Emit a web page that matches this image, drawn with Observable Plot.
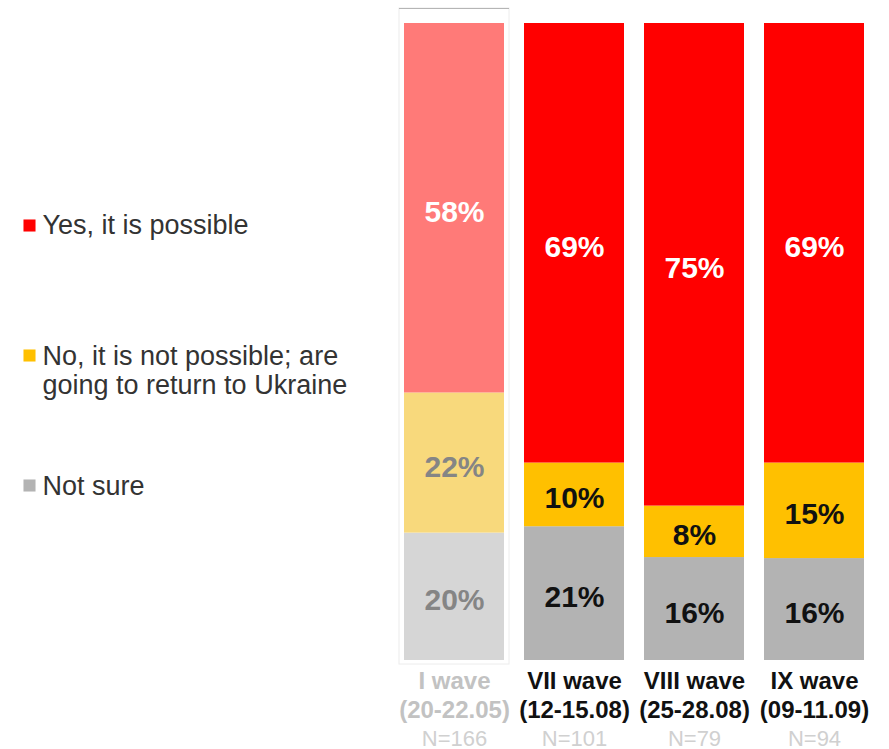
<!DOCTYPE html>
<html>
<head>
<meta charset="utf-8">
<script src="https://cdn.jsdelivr.net/npm/d3@7"></script>
<script src="https://cdn.jsdelivr.net/npm/@observablehq/plot@0.6"></script>
<style>
  html, body { margin: 0; padding: 0; background: #fff; }
  #chart svg { display: block; }
</style>
</head>
<body>
<div id="chart"></div>
<script>
// ---- data ----
const waves = ["I wave", "VII wave", "VIII wave", "IX wave"];
const dates = ["(20-22.05)", "(12-15.08)", "(25-28.08)", "(09-11.09)"];
const sampleSizes = ["N=166", "N=101", "N=79", "N=94"];
const answers = ["Not sure", "No, it is not possible; are\ngoing to return to Ukraine", "Yes, it is possible"];
const notSureValues = [20, 21, 16, 16];
const noValues = [22, 10, 8, 15];
const yesValues = [58, 69, 75, 69];

// ---- styles ----
const fillsFaded = ["#d6d6d6", "#f8d97c", "#ff7a78"];
const fillsFull = ["#b3b3b3", "#ffc000", "#ff0000"];
const labelFaded = ["#858585", "#858585", "#ffffff"];
const labelFull = ["#111111", "#111111", "#ffffff"];
const legendFills = fillsFull;

const seriesValues = [notSureValues, noValues, yesValues];
const rows = [];
waves.forEach((w, i) => {
  answers.forEach((a, j) => {
    rows.push({
      wave: w,
      answer: a,
      value: seriesValues[j][i],
      fill: i === 0 ? fillsFaded[j] : fillsFull[j],
      labelColor: i === 0 ? labelFaded[j] : labelFull[j]
    });
  });
});

const mTop = 23, mLeft = 403;
const legendY = [485, 370, 224];
const squareY = [485, 355, 225];

const legendMarks = answers.flatMap((a, j) => [
  Plot.dot([a], {
    frameAnchor: "top-left",
    dx: 29 - mLeft,
    dy: squareY[j] - mTop,
    symbol: "square",
    r: 6.8,
    fill: legendFills[j]
  }),
  Plot.text([a], {
    frameAnchor: "top-left",
    dx: 42 - mLeft,
    dy: legendY[j] - mTop,
    text: d => d,
    textAnchor: "start",
    lineAnchor: "middle",
    lineHeight: 1.05,
    fontSize: 27,
    fill: "#333333"
  })
]);

const firstColor = "#c2c2c2";

const chart = Plot.plot({
  width: 889,
  height: 749,
  marginTop: mTop,
  marginBottom: 89,
  marginLeft: mLeft,
  marginRight: 25,
  style: { fontFamily: "'Liberation Sans', Arial, sans-serif", background: "#fff" },
  x: { domain: waves, paddingInner: 0.167, paddingOuter: 0, axis: null },
  y: { domain: [0, 1], axis: null },
  marks: [
    // faint frame around the first wave
    Plot.rect([waves[0]], {
      x: d => d, y1: 0, y2: 1,
      insetLeft: -5, insetRight: -5, insetTop: -15, insetBottom: -4,
      fill: "none", stroke: "#ececec"
    }),
    Plot.tickY([waves[0]], {
      x: d => d, y: 1, dy: -15,
      insetLeft: -5, insetRight: -5,
      stroke: "#b5b5b5"
    }),
    Plot.barY(rows, Plot.stackY({
      x: "wave", y: "value", z: "answer", fill: "fill", offset: "normalize"
    })),
    Plot.text(rows, Plot.stackY({
      x: "wave", y: "value", z: "answer", offset: "normalize",
      text: d => d.value + "%",
      fill: "labelColor",
      dy: 4,
      fontSize: 30, fontWeight: "bold"
    })),
    Plot.text(waves, {
      x: d => d, frameAnchor: "bottom", dy: 28,
      text: d => d,
      fill: (d, i) => i === 0 ? firstColor : "#111111",
      fontSize: 24, fontWeight: "bold"
    }),
    Plot.text(dates, {
      x: (d, i) => waves[i], frameAnchor: "bottom", dy: 57,
      text: d => d,
      fill: (d, i) => i === 0 ? firstColor : "#111111",
      fontSize: 24, fontWeight: "bold"
    }),
    Plot.text(sampleSizes, {
      x: (d, i) => waves[i], frameAnchor: "bottom", dy: 85,
      text: d => d,
      fill: "#d0d0d0",
      fontSize: 22
    }),
    ...legendMarks
  ]
});
document.getElementById("chart").appendChild(chart);
</script>
</body>
</html>
